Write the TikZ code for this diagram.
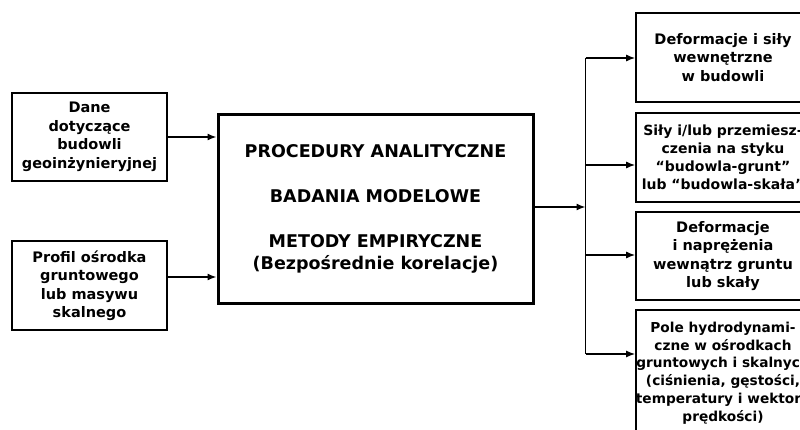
\documentclass[tikz,border=0pt]{standalone}
\usepackage{fontspec}
\setmainfont{DejaVu Sans}
\usetikzlibrary{arrows.meta}
\begin{document}
\begin{tikzpicture}[x=1pt,y=-1pt,
        ramka/.style={draw,line width=1.6pt,align=center,inner sep=3pt,
            font=\bfseries\fontsize{14.5}{18.5}\selectfont},
        wynik/.style={ramka,inner xsep=0pt,minimum width=174pt},
        glowna/.style={draw,line width=3pt,align=center,
            font=\bfseries\fontsize{17.5}{22.5}\selectfont},
        linia/.style={line width=1.4pt},
        strzalka/.style={linia,-{Latex[length=9pt,width=7pt]}}]
    % obszar rysunku
    \useasboundingbox (0,0) rectangle (800,430);
    \clip (0,0) rectangle (800,430);

    % dane wejsciowe
    \node[ramka,minimum width=155pt,minimum height=88pt] (dane) at (89.5,137)
        {Dane\\dotyczące\\budowli\\geoinżynieryjnej};
    \node[ramka,minimum width=155pt,minimum height=89pt] (profil) at (89.5,285.5)
        {Profil ośrodka\\gruntowego\\lub masywu\\skalnego};

    % procedury
    \node[glowna,minimum width=315pt,minimum height=188pt] (proc) at (375.5,209)
        {PROCEDURY ANALITYCZNE\\[22.5pt]BADANIA MODELOWE\\[22.5pt]METODY EMPIRYCZNE\\(Bezpośrednie korelacje)};

    % wyniki
    \node[wynik,minimum height=89pt] (skutki) at (723,57.5)
        {Deformacje i siły\\wewnętrzne\\w budowli};
    \node[wynik,minimum height=89pt,font=\bfseries\fontsize{14}{18}\selectfont] (styk) at (723,157.5)
        {Siły i/lub przemiesz-\\czenia na styku\\“budowla-grunt”\\lub “budowla-skała”};
    \node[wynik,minimum height=88pt] (grunt) at (723,256)
        {Deformacje\\i naprężenia\\wewnątrz gruntu\\lub skały};
    \node[wynik,minimum height=126pt,font=\bfseries\fontsize{13.7}{17.8}\selectfont] (pole) at (723,373)
        {Pole hydrodynami-\\czne w ośrodkach\\gruntowych i skalnych\\(ciśnienia, gęstości,\\temperatury i wektory\\prędkości)};

    % polaczenia
    \draw[strzalka] (dane.east) -- (dane.east -| proc.west);
    \draw[strzalka] ([yshift=8.5pt]profil.east) -- ([yshift=8.5pt]profil.east -| proc.west);
    \coordinate (rozgal) at (585.5,207);
    \draw[strzalka] (proc.east |- rozgal) -- (rozgal);
    \draw[linia] (rozgal |- 0,58) -- (rozgal |- 0,354);
    \foreach \cel/\y in {skutki/58, styk/165, grunt/255, pole/354}
        \draw[strzalka] (rozgal |- 0,\y) -- (\cel.west |- 0,\y);
\end{tikzpicture}
\end{document}
